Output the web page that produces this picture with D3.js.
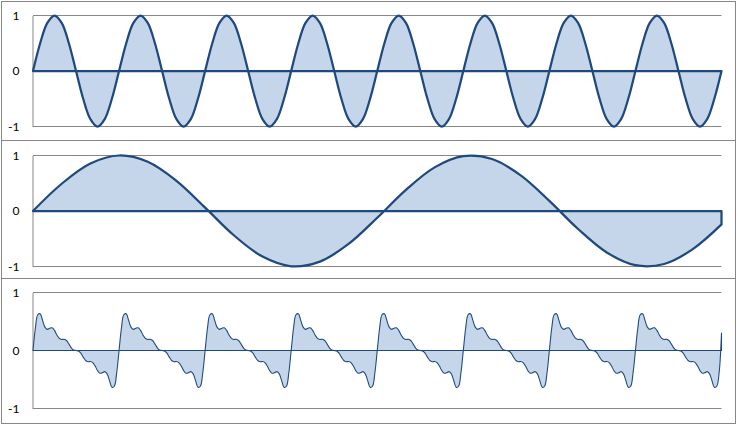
<!DOCTYPE html>
<html>
<head>
<meta charset="utf-8">
<script src="https://cdn.jsdelivr.net/npm/d3@7"></script>
<style>
  html, body { margin: 0; padding: 0; background: #fff; }
  svg { display: block; }
  .tick-label { font-family: Lato, "Liberation Sans", sans-serif; font-size: 12px; fill: #000; }
</style>
</head>
<body>
<svg id="chart" width="738" height="425"></svg>
<script>
// y-axis tick labels (same for all three panels)
const tickValues = [1, 0, -1];
const tickLabels = ['1', '0', '-1'];

// panel 1: fast sine, 8 cycles (12 readings per cycle)
const fastSine = [
  0, 0.5, 0.866, 1, 0.866, 0.5, 0, -0.5, -0.866, -1, -0.866, -0.5,
  0, 0.5, 0.866, 1, 0.866, 0.5, 0, -0.5, -0.866, -1, -0.866, -0.5,
  0, 0.5, 0.866, 1, 0.866, 0.5, 0, -0.5, -0.866, -1, -0.866, -0.5,
  0, 0.5, 0.866, 1, 0.866, 0.5, 0, -0.5, -0.866, -1, -0.866, -0.5,
  0, 0.5, 0.866, 1, 0.866, 0.5, 0, -0.5, -0.866, -1, -0.866, -0.5,
  0, 0.5, 0.866, 1, 0.866, 0.5, 0, -0.5, -0.866, -1, -0.866, -0.5,
  0, 0.5, 0.866, 1, 0.866, 0.5, 0, -0.5, -0.866, -1, -0.866, -0.5,
  0, 0.5, 0.866, 1, 0.866, 0.5, 0, -0.5, -0.866, -1, -0.866, -0.5,
  0
];

// panel 2: slow sine, a bit under 2 cycles
const slowSine = [
  0, 0.491, 0.856, 1.0, 0.886, 0.543, 0.061, -0.437, -0.822, -0.996,
  -0.912, -0.594, -0.122, 0.381, 0.786, 0.988, 0.936, 0.642, 0.182,
  -0.324, -0.747, -0.977, -0.955, -0.687, -0.242
];

// panel 3: rippled sawtooth, 8 cycles (36 readings per cycle)
const sawWave = [
  0, 0.388, 0.616, 0.633, 0.519, 0.403, 0.364, 0.383, 0.392, 0.347, 0.268, 0.208, 0.191, 0.193, 0.172, 0.114, 0.046, 0.007,
  0, -0.007, -0.046, -0.114, -0.172, -0.193, -0.191, -0.208, -0.268, -0.347, -0.392, -0.383, -0.364, -0.403, -0.519, -0.633, -0.616, -0.388,
  0, 0.388, 0.616, 0.633, 0.519, 0.403, 0.364, 0.383, 0.392, 0.347, 0.268, 0.208, 0.191, 0.193, 0.172, 0.114, 0.046, 0.007,
  0, -0.007, -0.046, -0.114, -0.172, -0.193, -0.191, -0.208, -0.268, -0.347, -0.392, -0.383, -0.364, -0.403, -0.519, -0.633, -0.616, -0.388,
  0, 0.388, 0.616, 0.633, 0.519, 0.403, 0.364, 0.383, 0.392, 0.347, 0.268, 0.208, 0.191, 0.193, 0.172, 0.114, 0.046, 0.007,
  0, -0.007, -0.046, -0.114, -0.172, -0.193, -0.191, -0.208, -0.268, -0.347, -0.392, -0.383, -0.364, -0.403, -0.519, -0.633, -0.616, -0.388,
  0, 0.388, 0.616, 0.633, 0.519, 0.403, 0.364, 0.383, 0.392, 0.347, 0.268, 0.208, 0.191, 0.193, 0.172, 0.114, 0.046, 0.007,
  0, -0.007, -0.046, -0.114, -0.172, -0.193, -0.191, -0.208, -0.268, -0.347, -0.392, -0.383, -0.364, -0.403, -0.519, -0.633, -0.616, -0.388,
  0, 0.388, 0.616, 0.633, 0.519, 0.403, 0.364, 0.383, 0.392, 0.347, 0.268, 0.208, 0.191, 0.193, 0.172, 0.114, 0.046, 0.007,
  0, -0.007, -0.046, -0.114, -0.172, -0.193, -0.191, -0.208, -0.268, -0.347, -0.392, -0.383, -0.364, -0.403, -0.519, -0.633, -0.616, -0.388,
  0, 0.388, 0.616, 0.633, 0.519, 0.403, 0.364, 0.383, 0.392, 0.347, 0.268, 0.208, 0.191, 0.193, 0.172, 0.114, 0.046, 0.007,
  0, -0.007, -0.046, -0.114, -0.172, -0.193, -0.191, -0.208, -0.268, -0.347, -0.392, -0.383, -0.364, -0.403, -0.519, -0.633, -0.616, -0.388,
  0, 0.388, 0.616, 0.633, 0.519, 0.403, 0.364, 0.383, 0.392, 0.347, 0.268, 0.208, 0.191, 0.193, 0.172, 0.114, 0.046, 0.007,
  0, -0.007, -0.046, -0.114, -0.172, -0.193, -0.191, -0.208, -0.268, -0.347, -0.392, -0.383, -0.364, -0.403, -0.519, -0.633, -0.616, -0.388,
  0, 0.388, 0.616, 0.633, 0.519, 0.403, 0.364, 0.383, 0.392, 0.347, 0.268, 0.208, 0.191, 0.193, 0.172, 0.114, 0.046, 0.007,
  0, -0.007, -0.046, -0.114, -0.172, -0.193, -0.191, -0.208, -0.268, -0.347, -0.392, -0.383, -0.364, -0.403, -0.519, -0.633, -0.616, -0.388,
  0.3
];

const lineColor = '#1f497d';
const fillColor = '#c6d6ea';
const gridColor = '#878787';

const svg = d3.select('#chart');

// panel layout (pixel boxes of the three stacked charts)
const panels = [
  { values: fastSine, box: [1.5, 140.5], plot: [15.5, 126.5], width: 2.25 },
  { values: slowSine, box: [140.5, 278.5], plot: [155.5, 266.5], width: 2.25 },
  { values: sawWave, box: [278.5, 423.5], plot: [292.5, 408.5], width: 1.1 }
];

const plotLeft = 33, plotRight = 721.5;

panels.forEach(p => {
  const g = svg.append('g');

  // chart frame
  g.append('rect')
    .attr('x', 1.5).attr('y', p.box[0])
    .attr('width', 734).attr('height', p.box[1] - p.box[0])
    .attr('fill', 'none').attr('stroke', gridColor).attr('stroke-width', 1);

  const x = d3.scaleLinear().domain([0, p.values.length - 1]).range([plotLeft, plotRight]);
  const y = d3.scaleLinear().domain([-1, 1]).range([p.plot[1], p.plot[0]]);

  // gridlines
  g.selectAll('.grid').data(tickValues).join('line')
    .attr('x1', plotLeft).attr('x2', plotRight)
    .attr('y1', d => y(d)).attr('y2', d => y(d))
    .attr('stroke', gridColor).attr('stroke-width', 1);

  // vertical axis
  const axis = d3.axisLeft(y).tickValues(tickValues).tickSize(0).tickPadding(13)
    .tickFormat((d, i) => tickLabels[i]);
  const ag = g.append('g').attr('transform', `translate(${plotLeft - 0.5},0)`).call(axis);
  ag.select('.domain').attr('stroke', gridColor);
  ag.selectAll('text').attr('class', 'tick-label').attr('fill', '#000');

  // filled area with outline (Excel draws the border around the whole shape)
  const area = d3.area()
    .x((d, i) => x(i))
    .y0(y(0))
    .y1(d => y(d))
    .curve(d3.curveCatmullRom);

  g.append('path')
    .datum(p.values)
    .attr('d', area)
    .attr('fill', fillColor)
    .attr('stroke', lineColor)
    .attr('stroke-width', p.width)
    .attr('stroke-linejoin', 'round');
});
</script>
</body>
</html>
